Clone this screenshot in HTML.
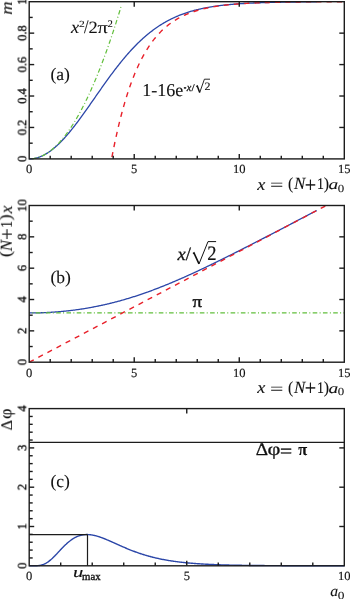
<!DOCTYPE html>
<html><head><meta charset="utf-8"><style>
html,body{margin:0;padding:0;background:#fff;}
body{width:350px;height:599px;overflow:hidden;}
svg{display:block;font-family:"Liberation Serif",serif;text-rendering:geometricPrecision;}
text{fill:#111;filter:url(#gs);}
</style></head><body>
<svg width="350" height="599" viewBox="0 0 350 599">
<filter id="gs" x="-20%" y="-20%" width="140%" height="140%"><feColorMatrix type="saturate" values="0"/></filter>
<path d="M29.2,158.9 L29.92,158.89 L30.64,158.86 L31.36,158.82 L32.08,158.75 L32.8,158.67 L33.52,158.56 L34.24,158.44 L34.96,158.3 L35.68,158.14 L36.41,157.97 L37.13,157.77 L37.85,157.56 L38.57,157.32 L39.29,157.07 L40.01,156.81 L40.73,156.52 L41.45,156.22 L42.17,155.89 L42.89,155.55 L43.61,155.2 L44.33,154.82 L45.05,154.43 L45.77,154.02 L46.49,153.59 L47.21,153.15 L47.93,152.69 L48.65,152.22 L49.38,151.72 L50.1,151.21 L50.82,150.69 L51.54,150.15 L52.26,149.59 L52.98,149.02 L53.7,148.43 L54.42,147.83 L55.14,147.21 L55.86,146.58 L56.58,145.94 L57.3,145.28 L58.02,144.6 L58.74,143.91 L59.46,143.21 L60.18,142.5 L60.9,141.77 L61.62,141.03 L62.34,140.28 L63.07,139.51 L63.79,138.73 L64.51,137.94 L65.23,137.14 L65.95,136.33 L66.67,135.51 L67.39,134.67 L68.11,133.83 L68.83,132.97 L69.55,132.11 L70.27,131.23 L70.99,130.35 L71.71,129.46 L72.43,128.56 L73.15,127.65 L73.87,126.73 L74.59,125.8 L75.31,124.87 L76.04,123.92 L76.76,122.98 L77.48,122.02 L78.2,121.06 L78.92,120.09 L79.64,119.12 L80.36,118.14 L81.08,117.15 L81.8,116.16 L82.52,115.16 L83.24,114.16 L83.96,113.16 L84.68,112.15 L85.4,111.14 L86.12,110.13 L86.84,109.11 L87.56,108.09 L88.28,107.06 L89,106.04 L89.73,105.01 L90.45,103.98 L91.17,102.95 L91.89,101.92 L92.61,100.88 L93.33,99.85 L94.05,98.81 L94.77,97.78 L95.49,96.75 L96.21,95.71 L96.93,94.68 L97.65,93.65 L98.37,92.61 L99.09,91.58 L99.81,90.56 L100.53,89.53 L101.25,88.5 L101.97,87.48 L102.7,86.46 L103.42,85.44 L104.14,84.43 L104.86,83.42 L105.58,82.41 L106.3,81.41 L107.02,80.41 L107.74,79.41 L108.46,78.42 L109.18,77.43 L109.9,76.45 L110.62,75.47 L111.34,74.49 L112.06,73.53 L112.78,72.56 L113.5,71.6 L114.22,70.65 L114.94,69.7 L115.66,68.76 L116.39,67.83 L117.11,66.9 L117.83,65.98 L118.55,65.06 L119.27,64.15 L119.99,63.25 L120.71,62.35 L121.43,61.46 L122.15,60.58 L122.87,59.7 L123.59,58.83 L124.31,57.97 L125.03,57.12 L125.75,56.27 L126.47,55.43 L127.19,54.6 L127.91,53.78 L128.63,52.96 L129.36,52.15 L130.08,51.35 L130.8,50.56 L131.52,49.78 L132.24,49 L132.96,48.23 L133.68,47.47 L134.4,46.72 L135.12,45.98 L135.84,45.24 L136.56,44.51 L137.28,43.79 L138,43.08 L138.72,42.38 L139.44,41.69 L140.16,41 L140.88,40.32 L141.6,39.65 L142.33,38.99 L143.05,38.34 L143.77,37.7 L144.49,37.06 L145.21,36.43 L145.93,35.81 L146.65,35.2 L147.37,34.6 L148.09,34 L148.81,33.42 L149.53,32.84 L150.25,32.27 L150.97,31.71 L151.69,31.15 L152.41,30.61 L153.13,30.07 L153.85,29.54 L154.57,29.01 L155.29,28.5 L156.02,27.99 L156.74,27.49 L157.46,27 L158.18,26.52 L158.9,26.04 L159.62,25.57 L160.34,25.11 L161.06,24.65 L161.78,24.2 L162.5,23.76 L163.22,23.33 L163.94,22.91 L164.66,22.49 L165.38,22.07 L166.1,21.67 L166.82,21.27 L167.54,20.88 L168.26,20.49 L168.99,20.12 L169.71,19.74 L170.43,19.38 L171.15,19.02 L171.87,18.67 L172.59,18.32 L173.31,17.98 L174.03,17.64 L174.75,17.32 L175.47,16.99 L176.19,16.68 L176.91,16.37 L177.63,16.06 L178.35,15.76 L179.07,15.47 L179.79,15.18 L180.51,14.89 L181.23,14.62 L181.95,14.34 L182.68,14.08 L183.4,13.81 L184.12,13.56 L184.84,13.3 L185.56,13.06 L186.28,12.81 L187,12.57 L187.72,12.34 L188.44,12.11 L189.16,11.89 L189.88,11.67 L190.6,11.45 L191.32,11.24 L192.04,11.03 L192.76,10.83 L193.48,10.63 L194.2,10.43 L194.92,10.24 L195.65,10.06 L196.37,9.87 L197.09,9.69 L197.81,9.52 L198.53,9.34 L199.25,9.17 L199.97,9.01 L200.69,8.85 L201.41,8.69 L202.13,8.53 L202.85,8.38 L203.57,8.23 L204.29,8.09 L205.01,7.94 L205.73,7.8 L206.45,7.67 L207.17,7.53 L207.89,7.4 L208.61,7.27 L209.34,7.15 L210.06,7.02 L210.78,6.9 L211.5,6.79 L212.22,6.67 L212.94,6.56 L213.66,6.45 L214.38,6.34 L215.1,6.24 L215.82,6.13 L216.54,6.03 L217.26,5.93 L217.98,5.84 L218.7,5.74 L219.42,5.65 L220.14,5.56 L220.86,5.47 L221.58,5.38 L222.31,5.3 L223.03,5.22 L223.75,5.14 L224.47,5.06 L225.19,4.98 L225.91,4.9 L226.63,4.83 L227.35,4.76 L228.07,4.69 L228.79,4.62 L229.51,4.55 L230.23,4.48 L230.95,4.42 L231.67,4.36 L232.39,4.29 L233.11,4.23 L233.83,4.18 L234.55,4.12 L235.27,4.06 L236,4.01 L236.72,3.95 L237.44,3.9 L238.16,3.85 L238.88,3.8 L239.6,3.75 L240.32,3.7 L241.04,3.66 L241.76,3.61 L242.48,3.57 L243.2,3.52 L243.92,3.48 L244.64,3.44 L245.36,3.4 L246.08,3.36 L246.8,3.32 L247.52,3.28 L248.24,3.24 L248.97,3.21 L249.69,3.17 L250.41,3.14 L251.13,3.1 L251.85,3.07 L252.57,3.04 L253.29,3.01 L254.01,2.98 L254.73,2.95 L255.45,2.92 L256.17,2.89 L256.89,2.86 L257.61,2.83 L258.33,2.81 L259.05,2.78 L259.77,2.75 L260.49,2.73 L261.21,2.7 L261.93,2.68 L262.66,2.66 L263.38,2.63 L264.1,2.61 L264.82,2.59 L265.54,2.57 L266.26,2.55 L266.98,2.53 L267.7,2.51 L268.42,2.49 L269.14,2.47 L269.86,2.45 L270.58,2.44 L271.3,2.42 L272.02,2.4 L272.74,2.38 L273.46,2.37 L274.18,2.35 L274.9,2.34 L275.63,2.32 L276.35,2.31 L277.07,2.29 L277.79,2.28 L278.51,2.26 L279.23,2.25 L279.95,2.24 L280.67,2.23 L281.39,2.21 L282.11,2.2 L282.83,2.19 L283.55,2.18 L284.27,2.17 L284.99,2.15 L285.71,2.14 L286.43,2.13 L287.15,2.12 L287.87,2.11 L288.59,2.1 L289.32,2.09 L290.04,2.08 L290.76,2.08 L291.48,2.07 L292.2,2.06 L292.92,2.05 L293.64,2.04 L294.36,2.03 L295.08,2.02 L295.8,2.02 L296.52,2.01 L297.24,2 L297.96,1.99 L298.68,1.99 L299.4,1.98 L300.12,1.97 L300.84,1.97 L301.56,1.96 L302.29,1.95 L303.01,1.95 L303.73,1.94 L304.45,1.94 L305.17,1.93 L305.89,1.93 L306.61,1.92 L307.33,1.92 L308.05,1.91 L308.77,1.91 L309.49,1.9 L310.21,1.9 L310.93,1.89 L311.65,1.89 L312.37,1.88 L313.09,1.88 L313.81,1.87 L314.53,1.87 L315.25,1.86 L315.98,1.86 L316.7,1.86" fill="none" stroke="#2b46a8" stroke-width="1.3" stroke-linejoin="round"/>
<path d="M29.2,158.9 L29.66,158.9 L30.13,158.88 L30.59,158.87 L31.05,158.84 L31.52,158.8 L31.98,158.76 L32.44,158.71 L32.9,158.65 L33.37,158.59 L33.83,158.51 L34.29,158.43 L34.76,158.34 L35.22,158.25 L35.68,158.14 L36.15,158.03 L36.61,157.91 L37.07,157.78 L37.54,157.65 L38,157.5 L38.46,157.35 L38.93,157.19 L39.39,157.03 L39.85,156.85 L40.31,156.67 L40.78,156.48 L41.24,156.28 L41.7,156.08 L42.17,155.87 L42.63,155.65 L43.09,155.42 L43.56,155.18 L44.02,154.94 L44.48,154.69 L44.95,154.43 L45.41,154.16 L45.87,153.88 L46.33,153.6 L46.8,153.31 L47.26,153.01 L47.72,152.71 L48.19,152.39 L48.65,152.07 L49.11,151.74 L49.58,151.41 L50.04,151.06 L50.5,150.71 L50.97,150.35 L51.43,149.98 L51.89,149.61 L52.35,149.22 L52.82,148.83 L53.28,148.43 L53.74,148.03 L54.21,147.61 L54.67,147.19 L55.13,146.76 L55.6,146.33 L56.06,145.88 L56.52,145.43 L56.99,144.97 L57.45,144.5 L57.91,144.02 L58.38,143.54 L58.84,143.05 L59.3,142.55 L59.76,142.04 L60.23,141.53 L60.69,141 L61.15,140.47 L61.62,139.94 L62.08,139.39 L62.54,138.84 L63.01,138.27 L63.47,137.71 L63.93,137.13 L64.4,136.54 L64.86,135.95 L65.32,135.35 L65.78,134.75 L66.25,134.13 L66.71,133.51 L67.17,132.88 L67.64,132.24 L68.1,131.59 L68.56,130.94 L69.03,130.27 L69.49,129.61 L69.95,128.93 L70.42,128.24 L70.88,127.55 L71.34,126.85 L71.8,126.14 L72.27,125.43 L72.73,124.7 L73.19,123.97 L73.66,123.23 L74.12,122.48 L74.58,121.73 L75.05,120.97 L75.51,120.2 L75.97,119.42 L76.44,118.63 L76.9,117.84 L77.36,117.04 L77.83,116.23 L78.29,115.41 L78.75,114.59 L79.21,113.76 L79.68,112.92 L80.14,112.07 L80.6,111.21 L81.07,110.35 L81.53,109.48 L81.99,108.6 L82.46,107.71 L82.92,106.82 L83.38,105.92 L83.85,105.01 L84.31,104.09 L84.77,103.17 L85.23,102.23 L85.7,101.29 L86.16,100.35 L86.62,99.39 L87.09,98.43 L87.55,97.45 L88.01,96.48 L88.48,95.49 L88.94,94.49 L89.4,93.49 L89.87,92.48 L90.33,91.46 L90.79,90.44 L91.25,89.4 L91.72,88.36 L92.18,87.31 L92.64,86.26 L93.11,85.19 L93.57,84.12 L94.03,83.04 L94.5,81.95 L94.96,80.86 L95.42,79.76 L95.89,78.64 L96.35,77.53 L96.81,76.4 L97.28,75.27 L97.74,74.12 L98.2,72.97 L98.66,71.82 L99.13,70.65 L99.59,69.48 L100.05,68.3 L100.52,67.11 L100.98,65.91 L101.44,64.71 L101.91,63.5 L102.37,62.28 L102.83,61.05 L103.3,59.82 L103.76,58.58 L104.22,57.33 L104.68,56.07 L105.15,54.8 L105.61,53.53 L106.07,52.25 L106.54,50.96 L107,49.66 L107.46,48.36 L107.93,47.05 L108.39,45.73 L108.85,44.4 L109.32,43.06 L109.78,41.72 L110.24,40.37 L110.7,39.01 L111.17,37.65 L111.63,36.27 L112.09,34.89 L112.56,33.5 L113.02,32.1 L113.48,30.7 L113.95,29.29 L114.41,27.87 L114.87,26.44 L115.34,25 L115.8,23.56 L116.26,22.11 L116.73,20.65 L117.19,19.18 L117.65,17.71 L118.11,16.22 L118.58,14.73 L119.04,13.24 L119.5,11.73 L119.97,10.22 L120.43,8.7 L120.89,7.17 L121.36,5.63" fill="none" stroke="#62bf3c" stroke-width="1.2" stroke-linejoin="round" stroke-dasharray="4.6 2.3 1.0 2.36" stroke-dashoffset="7.4"/>
<path d="M111.57,158.9 L112.35,154.83 L113.12,150.87 L113.9,147.02 L114.68,143.26 L115.46,139.6 L116.24,136.03 L117.02,132.56 L117.79,129.17 L118.57,125.88 L119.35,122.67 L120.13,119.54 L120.91,116.49 L121.69,113.52 L122.46,110.63 L123.24,107.81 L124.02,105.07 L124.8,102.4 L125.58,99.79 L126.36,97.26 L127.14,94.78 L127.91,92.38 L128.69,90.03 L129.47,87.75 L130.25,85.52 L131.03,83.35 L131.81,81.24 L132.58,79.19 L133.36,77.18 L134.14,75.23 L134.92,73.33 L135.7,71.48 L136.48,69.67 L137.25,67.91 L138.03,66.2 L138.81,64.53 L139.59,62.91 L140.37,61.33 L141.15,59.78 L141.92,58.28 L142.7,56.82 L143.48,55.39 L144.26,54 L145.04,52.65 L145.82,51.33 L146.59,50.05 L147.37,48.8 L148.15,47.58 L148.93,46.4 L149.71,45.24 L150.49,44.11 L151.26,43.02 L152.04,41.95 L152.82,40.91 L153.6,39.89 L154.38,38.91 L155.16,37.94 L155.93,37.01 L156.71,36.09 L157.49,35.2 L158.27,34.34 L159.05,33.49 L159.83,32.67 L160.61,31.87 L161.38,31.09 L162.16,30.33 L162.94,29.59 L163.72,28.87 L164.5,28.17 L165.28,27.48 L166.05,26.82 L166.83,26.17 L167.61,25.53 L168.39,24.92 L169.17,24.32 L169.95,23.73 L170.72,23.16 L171.5,22.61 L172.28,22.07 L173.06,21.54 L173.84,21.03 L174.62,20.53 L175.39,20.04 L176.17,19.57 L176.95,19.1 L177.73,18.65 L178.51,18.21 L179.29,17.79 L180.06,17.37 L180.84,16.97 L181.62,16.57 L182.4,16.19 L183.18,15.81 L183.96,15.45 L184.73,15.09 L185.51,14.75 L186.29,14.41 L187.07,14.08 L187.85,13.76 L188.63,13.45 L189.4,13.14 L190.18,12.85 L190.96,12.56 L191.74,12.28 L192.52,12.01 L193.3,11.74 L194.07,11.48 L194.85,11.23 L195.63,10.98 L196.41,10.74 L197.19,10.51 L197.97,10.28 L198.75,10.06 L199.52,9.84 L200.3,9.63 L201.08,9.42 L201.86,9.23 L202.64,9.03 L203.42,8.84 L204.19,8.66 L204.97,8.48 L205.75,8.3 L206.53,8.13 L207.31,7.96 L208.09,7.8 L208.86,7.64 L209.64,7.49 L210.42,7.34 L211.2,7.19 L211.98,7.05 L212.76,6.91 L213.53,6.78 L214.31,6.65 L215.09,6.52 L215.87,6.4 L216.65,6.27 L217.43,6.16 L218.2,6.04 L218.98,5.93 L219.76,5.82 L220.54,5.71 L221.32,5.61 L222.1,5.51 L222.87,5.41 L223.65,5.31 L224.43,5.22 L225.21,5.13 L225.99,5.04 L226.77,4.95 L227.54,4.87 L228.32,4.79 L229.1,4.71 L229.88,4.63 L230.66,4.55 L231.44,4.48 L232.21,4.41 L232.99,4.34 L233.77,4.27 L234.55,4.2 L235.33,4.14 L236.11,4.08 L236.89,4.01 L237.66,3.95 L238.44,3.9 L239.22,3.84 L240,3.78 L240.78,3.73 L241.56,3.68 L242.33,3.63 L243.11,3.58 L243.89,3.53 L244.67,3.48 L245.45,3.43 L246.23,3.39 L247,3.35 L247.78,3.3 L248.56,3.26 L249.34,3.22 L250.12,3.18 L250.9,3.14 L251.67,3.11 L252.45,3.07 L253.23,3.04 L254.01,3 L254.79,2.97 L255.57,2.93 L256.34,2.9 L257.12,2.87 L257.9,2.84 L258.68,2.81 L259.46,2.78 L260.24,2.75 L261.01,2.73 L261.79,2.7 L262.57,2.67 L263.35,2.65 L264.13,2.63 L264.91,2.6 L265.68,2.58 L266.46,2.56 L267.24,2.53 L268.02,2.51 L268.8,2.49 L269.58,2.47 L270.35,2.45 L271.13,2.43 L271.91,2.41 L272.69,2.39 L273.47,2.38 L274.25,2.36 L275.03,2.34 L275.8,2.32 L276.58,2.31 L277.36,2.29 L278.14,2.28 L278.92,2.26 L279.7,2.25 L280.47,2.23 L281.25,2.22 L282.03,2.21 L282.81,2.19 L283.59,2.18 L284.37,2.17 L285.14,2.16 L285.92,2.14 L286.7,2.13 L287.48,2.12 L288.26,2.11 L289.04,2.1 L289.81,2.09 L290.59,2.08 L291.37,2.07 L292.15,2.06 L292.93,2.05 L293.71,2.04 L294.48,2.03 L295.26,2.02 L296.04,2.02 L296.82,2.01 L297.6,2 L298.38,1.99 L299.15,1.98 L299.93,1.98 L300.71,1.97 L301.49,1.96 L302.27,1.96 L303.05,1.95 L303.82,1.94 L304.6,1.94 L305.38,1.93 L306.16,1.92 L306.94,1.92 L307.72,1.91 L308.5,1.91 L309.27,1.9 L310.05,1.9 L310.83,1.89 L311.61,1.89 L312.39,1.88 L313.17,1.88 L313.94,1.87 L314.72,1.87 L315.5,1.86 L316.28,1.86 L317.06,1.86 L317.84,1.85 L318.61,1.85 L319.39,1.84 L320.17,1.84 L320.95,1.84 L321.73,1.83 L322.51,1.83 L323.28,1.83 L324.06,1.82 L324.84,1.82 L325.62,1.82 L326.4,1.81 L327.18,1.81 L327.95,1.81 L328.73,1.81 L329.51,1.8 L330.29,1.8 L331.07,1.8 L331.85,1.79 L332.62,1.79 L333.4,1.79 L334.18,1.79 L334.96,1.79 L335.74,1.78 L336.52,1.78 L337.29,1.78 L338.07,1.78 L338.85,1.77 L339.63,1.77 L340.41,1.77 L341.19,1.77 L341.96,1.77 L342.74,1.77 L343.52,1.76 L344.3,1.76" fill="none" stroke="#e8202a" stroke-width="1.4" stroke-linejoin="round" stroke-dasharray="5.15 5.15" stroke-dashoffset="-1.8"/>
<rect x="29.2" y="1.7" width="315.1" height="157.2" fill="none" stroke="#1c1c1c" stroke-width="1.4"/>
<line x1="50.21" y1="158.9" x2="50.21" y2="155.7" stroke="#1c1c1c" stroke-width="1.4" />
<line x1="71.21" y1="158.9" x2="71.21" y2="155.7" stroke="#1c1c1c" stroke-width="1.4" />
<line x1="92.22" y1="158.9" x2="92.22" y2="155.7" stroke="#1c1c1c" stroke-width="1.4" />
<line x1="113.23" y1="158.9" x2="113.23" y2="155.7" stroke="#1c1c1c" stroke-width="1.4" />
<line x1="134.23" y1="158.9" x2="134.23" y2="153.9" stroke="#1c1c1c" stroke-width="1.4" />
<line x1="134.23" y1="1.7" x2="134.23" y2="6.7" stroke="#1c1c1c" stroke-width="1.4" />
<line x1="155.24" y1="158.9" x2="155.24" y2="155.7" stroke="#1c1c1c" stroke-width="1.4" />
<line x1="176.25" y1="158.9" x2="176.25" y2="155.7" stroke="#1c1c1c" stroke-width="1.4" />
<line x1="197.25" y1="158.9" x2="197.25" y2="155.7" stroke="#1c1c1c" stroke-width="1.4" />
<line x1="218.26" y1="158.9" x2="218.26" y2="155.7" stroke="#1c1c1c" stroke-width="1.4" />
<line x1="239.27" y1="158.9" x2="239.27" y2="153.9" stroke="#1c1c1c" stroke-width="1.4" />
<line x1="239.27" y1="1.7" x2="239.27" y2="6.7" stroke="#1c1c1c" stroke-width="1.4" />
<line x1="260.27" y1="158.9" x2="260.27" y2="155.7" stroke="#1c1c1c" stroke-width="1.4" />
<line x1="281.28" y1="158.9" x2="281.28" y2="155.7" stroke="#1c1c1c" stroke-width="1.4" />
<line x1="302.29" y1="158.9" x2="302.29" y2="155.7" stroke="#1c1c1c" stroke-width="1.4" />
<line x1="323.29" y1="158.9" x2="323.29" y2="155.7" stroke="#1c1c1c" stroke-width="1.4" />
<line x1="29.2" y1="143.18" x2="32.7" y2="143.18" stroke="#1c1c1c" stroke-width="1.4" />
<line x1="29.2" y1="127.46" x2="34.2" y2="127.46" stroke="#1c1c1c" stroke-width="1.4" />
<line x1="344.3" y1="127.46" x2="339.3" y2="127.46" stroke="#1c1c1c" stroke-width="1.4" />
<line x1="29.2" y1="111.74" x2="32.7" y2="111.74" stroke="#1c1c1c" stroke-width="1.4" />
<line x1="29.2" y1="96.02" x2="34.2" y2="96.02" stroke="#1c1c1c" stroke-width="1.4" />
<line x1="344.3" y1="96.02" x2="339.3" y2="96.02" stroke="#1c1c1c" stroke-width="1.4" />
<line x1="29.2" y1="80.3" x2="32.7" y2="80.3" stroke="#1c1c1c" stroke-width="1.4" />
<line x1="29.2" y1="64.58" x2="34.2" y2="64.58" stroke="#1c1c1c" stroke-width="1.4" />
<line x1="344.3" y1="64.58" x2="339.3" y2="64.58" stroke="#1c1c1c" stroke-width="1.4" />
<line x1="29.2" y1="48.86" x2="32.7" y2="48.86" stroke="#1c1c1c" stroke-width="1.4" />
<line x1="29.2" y1="33.14" x2="34.2" y2="33.14" stroke="#1c1c1c" stroke-width="1.4" />
<line x1="344.3" y1="33.14" x2="339.3" y2="33.14" stroke="#1c1c1c" stroke-width="1.4" />
<line x1="29.2" y1="17.42" x2="32.7" y2="17.42" stroke="#1c1c1c" stroke-width="1.4" />
<text transform="translate(26.2,158.9) rotate(-90)" x="0" y="0" font-size="12.5" text-anchor="middle" stroke="#111" stroke-width="0.35" >0</text>
<text transform="translate(26.2,127.46) rotate(-90)" x="0" y="0" font-size="12.5" text-anchor="middle" stroke="#111" stroke-width="0.35" >0.2</text>
<text transform="translate(26.2,96.02) rotate(-90)" x="0" y="0" font-size="12.5" text-anchor="middle" stroke="#111" stroke-width="0.35" >0.4</text>
<text transform="translate(26.2,64.58) rotate(-90)" x="0" y="0" font-size="12.5" text-anchor="middle" stroke="#111" stroke-width="0.35" >0.6</text>
<text transform="translate(26.2,33.14) rotate(-90)" x="0" y="0" font-size="12.5" text-anchor="middle" stroke="#111" stroke-width="0.35" >0.8</text>
<text transform="translate(26.2,1.7) rotate(-90)" x="0" y="0" font-size="12.5" text-anchor="middle" stroke="#111" stroke-width="0.35" >1</text>
<text x="29.2" y="173.2" font-size="12.5" text-anchor="middle" stroke="#111" stroke-width="0.15" >0</text>
<text x="134.23" y="173.2" font-size="12.5" text-anchor="middle" stroke="#111" stroke-width="0.15" >5</text>
<text x="239.27" y="173.2" font-size="12.5" text-anchor="middle" stroke="#111" stroke-width="0.15" >10</text>
<text x="344.3" y="173.2" font-size="12.5" text-anchor="middle" stroke="#111" stroke-width="0.15" >15</text>
<text transform="translate(12,14.69) rotate(-90) scale(1.107,1)" font-size="16.6" font-style="italic" stroke="#111" stroke-width="0.10">m</text>
<text transform="translate(257.13,189.5) scale(1.061,1)" font-size="17.17" font-style="italic" stroke="#111" stroke-width="0.09">x</text>
<text transform="translate(270.12,190.32) scale(1.478,1)" font-size="16"  stroke="#111" stroke-width="0.07">=</text>
<text transform="translate(287.89,189.39) scale(0.924,1)" font-size="16.97"  stroke="#111" stroke-width="0.11">(</text>
<text transform="translate(293.93,189.4) scale(0.991,1)" font-size="17.1" font-style="italic" stroke="#111" stroke-width="0.10">N</text>
<text transform="translate(304.79,191.95) scale(0.940,1)" font-size="21.51"  stroke="#111" stroke-width="0.11">+</text>
<text transform="translate(317.08,189.4) scale(0.849,1)" font-size="16.36"  stroke="#111" stroke-width="0.12">1</text>
<text transform="translate(323.78,189.39) scale(0.938,1)" font-size="16.97"  stroke="#111" stroke-width="0.11">)</text>
<text transform="translate(328.62,189.45) scale(1.332,1)" font-size="14.58" font-style="italic" stroke="#111" stroke-width="0.08">a</text>
<text transform="translate(337.81,191.89) scale(1.213,1)" font-size="10.67"  stroke="#111" stroke-width="0.08">0</text>
<text transform="translate(71.03,32.7) scale(1.035,1)" font-size="17.61" font-style="italic" stroke="#111" stroke-width="0.10">x</text>
<text transform="translate(78.88,26.9) scale(1.249,1)" font-size="9.21"  stroke="#111" stroke-width="0.08">2</text>
<text transform="translate(84.1,32.61) scale(0.862,1)" font-size="18.81"  stroke="#111" stroke-width="0.12">/</text>
<text transform="translate(88.47,32.7) scale(1.075,1)" font-size="17.21"  stroke="#111" stroke-width="0.09">2</text>
<text transform="translate(97.39,32.63) scale(1.227,1)" font-size="16.81"  stroke="#111" stroke-width="0.08">π</text>
<text transform="translate(107.52,26.8) scale(1.079,1)" font-size="9.96"  stroke="#111" stroke-width="0.09">2</text>
<text x="50.4" y="79.6" font-size="17.5" text-anchor="start" stroke="#111" stroke-width="0.1" >(a)</text>
<text x="142.2" y="95.6" font-size="18" text-anchor="start" stroke="#111" stroke-width="0.1" >1-16e</text>
<text transform="translate(183.71,90.93) scale(0.577,1)" font-size="13.33"  stroke="#111" stroke-width="0.52">-</text>
<text transform="translate(186.63,90.5) scale(0.922,1)" font-size="11.09" font-style="italic" stroke="#111" stroke-width="0.27">x</text>
<text transform="translate(191.5,90.5) scale(1.101,1)" font-size="10.15"  stroke="#111" stroke-width="0.23">/</text>
<path d="M196.3,86.6 L197.3,86 L199.7,92.6" fill="none" stroke="#111" stroke-width="1.5" stroke-linejoin="miter"/>
<path d="M199.7,92.6 L204.4,79.2 L210,79.2" fill="none" stroke="#111" stroke-width="0.9"/>
<text transform="translate(204.46,90.3) scale(1.060,1)" font-size="11.32"  stroke="#111" stroke-width="0.14">2</text>
<clipPath id="cb"><rect x="29.2" y="205.5" width="315.1" height="156.7"/></clipPath>
<g clip-path="url(#cb)">
<path d="M29.2,312.97 L29.92,312.97 L30.64,312.97 L31.36,312.96 L32.08,312.96 L32.8,312.95 L33.52,312.94 L34.24,312.94 L34.96,312.92 L35.68,312.91 L36.41,312.9 L37.13,312.88 L37.85,312.87 L38.57,312.85 L39.29,312.83 L40.01,312.81 L40.73,312.78 L41.45,312.76 L42.17,312.73 L42.89,312.71 L43.61,312.68 L44.33,312.65 L45.05,312.62 L45.77,312.58 L46.49,312.55 L47.21,312.51 L47.93,312.47 L48.65,312.44 L49.38,312.39 L50.1,312.35 L50.82,312.31 L51.54,312.26 L52.26,312.22 L52.98,312.17 L53.7,312.12 L54.42,312.07 L55.14,312.02 L55.86,311.96 L56.58,311.91 L57.3,311.85 L58.02,311.79 L58.74,311.73 L59.46,311.67 L60.18,311.61 L60.9,311.54 L61.62,311.47 L62.34,311.41 L63.07,311.34 L63.79,311.27 L64.51,311.19 L65.23,311.12 L65.95,311.05 L66.67,310.97 L67.39,310.89 L68.11,310.81 L68.83,310.73 L69.55,310.65 L70.27,310.56 L70.99,310.47 L71.71,310.39 L72.43,310.3 L73.15,310.21 L73.87,310.11 L74.59,310.02 L75.31,309.92 L76.04,309.83 L76.76,309.73 L77.48,309.63 L78.2,309.52 L78.92,309.42 L79.64,309.32 L80.36,309.21 L81.08,309.1 L81.8,308.99 L82.52,308.88 L83.24,308.77 L83.96,308.65 L84.68,308.53 L85.4,308.42 L86.12,308.3 L86.84,308.18 L87.56,308.05 L88.28,307.93 L89,307.8 L89.73,307.67 L90.45,307.54 L91.17,307.41 L91.89,307.28 L92.61,307.15 L93.33,307.01 L94.05,306.87 L94.77,306.73 L95.49,306.59 L96.21,306.45 L96.93,306.31 L97.65,306.16 L98.37,306.01 L99.09,305.86 L99.81,305.71 L100.53,305.56 L101.25,305.41 L101.97,305.25 L102.7,305.09 L103.42,304.93 L104.14,304.77 L104.86,304.61 L105.58,304.44 L106.3,304.28 L107.02,304.11 L107.74,303.94 L108.46,303.77 L109.18,303.6 L109.9,303.42 L110.62,303.25 L111.34,303.07 L112.06,302.89 L112.78,302.71 L113.5,302.53 L114.22,302.34 L114.94,302.16 L115.66,301.97 L116.39,301.78 L117.11,301.59 L117.83,301.4 L118.55,301.2 L119.27,301.01 L119.99,300.81 L120.71,300.61 L121.43,300.41 L122.15,300.21 L122.87,300 L123.59,299.8 L124.31,299.59 L125.03,299.38 L125.75,299.17 L126.47,298.96 L127.19,298.74 L127.91,298.53 L128.63,298.31 L129.36,298.09 L130.08,297.87 L130.8,297.65 L131.52,297.42 L132.24,297.2 L132.96,296.97 L133.68,296.74 L134.4,296.51 L135.12,296.28 L135.84,296.05 L136.56,295.81 L137.28,295.58 L138,295.34 L138.72,295.1 L139.44,294.86 L140.16,294.62 L140.88,294.37 L141.6,294.13 L142.33,293.88 L143.05,293.63 L143.77,293.38 L144.49,293.13 L145.21,292.87 L145.93,292.62 L146.65,292.36 L147.37,292.1 L148.09,291.85 L148.81,291.58 L149.53,291.32 L150.25,291.06 L150.97,290.79 L151.69,290.53 L152.41,290.26 L153.13,289.99 L153.85,289.72 L154.57,289.45 L155.29,289.17 L156.02,288.9 L156.74,288.62 L157.46,288.35 L158.18,288.07 L158.9,287.79 L159.62,287.5 L160.34,287.22 L161.06,286.94 L161.78,286.65 L162.5,286.37 L163.22,286.08 L163.94,285.79 L164.66,285.5 L165.38,285.21 L166.1,284.91 L166.82,284.62 L167.54,284.32 L168.26,284.03 L168.99,283.73 L169.71,283.43 L170.43,283.13 L171.15,282.83 L171.87,282.53 L172.59,282.22 L173.31,281.92 L174.03,281.61 L174.75,281.3 L175.47,281 L176.19,280.69 L176.91,280.38 L177.63,280.07 L178.35,279.75 L179.07,279.44 L179.79,279.13 L180.51,278.81 L181.23,278.49 L181.95,278.18 L182.68,277.86 L183.4,277.54 L184.12,277.22 L184.84,276.9 L185.56,276.58 L186.28,276.25 L187,275.93 L187.72,275.6 L188.44,275.28 L189.16,274.95 L189.88,274.62 L190.6,274.3 L191.32,273.97 L192.04,273.64 L192.76,273.31 L193.48,272.97 L194.2,272.64 L194.92,272.31 L195.65,271.97 L196.37,271.64 L197.09,271.3 L197.81,270.97 L198.53,270.63 L199.25,270.29 L199.97,269.95 L200.69,269.62 L201.41,269.28 L202.13,268.94 L202.85,268.59 L203.57,268.25 L204.29,267.91 L205.01,267.57 L205.73,267.22 L206.45,266.88 L207.17,266.53 L207.89,266.19 L208.61,265.84 L209.34,265.49 L210.06,265.15 L210.78,264.8 L211.5,264.45 L212.22,264.1 L212.94,263.75 L213.66,263.4 L214.38,263.05 L215.1,262.7 L215.82,262.35 L216.54,261.99 L217.26,261.64 L217.98,261.29 L218.7,260.93 L219.42,260.58 L220.14,260.22 L220.86,259.87 L221.58,259.51 L222.31,259.16 L223.03,258.8 L223.75,258.44 L224.47,258.09 L225.19,257.73 L225.91,257.37 L226.63,257.01 L227.35,256.65 L228.07,256.29 L228.79,255.93 L229.51,255.57 L230.23,255.21 L230.95,254.85 L231.67,254.49 L232.39,254.13 L233.11,253.76 L233.83,253.4 L234.55,253.04 L235.27,252.68 L236,252.31 L236.72,251.95 L237.44,251.58 L238.16,251.22 L238.88,250.86 L239.6,250.49 L240.32,250.13 L241.04,249.76 L241.76,249.39 L242.48,249.03 L243.2,248.66 L243.92,248.29 L244.64,247.93 L245.36,247.56 L246.08,247.19 L246.8,246.83 L247.52,246.46 L248.24,246.09 L248.97,245.72 L249.69,245.35 L250.41,244.98 L251.13,244.61 L251.85,244.25 L252.57,243.88 L253.29,243.51 L254.01,243.14 L254.73,242.77 L255.45,242.4 L256.17,242.03 L256.89,241.65 L257.61,241.28 L258.33,240.91 L259.05,240.54 L259.77,240.17 L260.49,239.8 L261.21,239.43 L261.93,239.05 L262.66,238.68 L263.38,238.31 L264.1,237.94 L264.82,237.57 L265.54,237.19 L266.26,236.82 L266.98,236.45 L267.7,236.07 L268.42,235.7 L269.14,235.33 L269.86,234.95 L270.58,234.58 L271.3,234.21 L272.02,233.83 L272.74,233.46 L273.46,233.08 L274.18,232.71 L274.9,232.34 L275.63,231.96 L276.35,231.59 L277.07,231.21 L277.79,230.84 L278.51,230.46 L279.23,230.09 L279.95,229.71 L280.67,229.34 L281.39,228.96 L282.11,228.58 L282.83,228.21 L283.55,227.83 L284.27,227.46 L284.99,227.08 L285.71,226.71 L286.43,226.33 L287.15,225.95 L287.87,225.58 L288.59,225.2 L289.32,224.83 L290.04,224.45 L290.76,224.07 L291.48,223.7 L292.2,223.32 L292.92,222.94 L293.64,222.57 L294.36,222.19 L295.08,221.81 L295.8,221.43 L296.52,221.06 L297.24,220.68 L297.96,220.3 L298.68,219.93 L299.4,219.55 L300.12,219.17 L300.84,218.79 L301.56,218.42 L302.29,218.04 L303.01,217.66 L303.73,217.28 L304.45,216.91 L305.17,216.53 L305.89,216.15 L306.61,215.77 L307.33,215.4 L308.05,215.02 L308.77,214.64 L309.49,214.26 L310.21,213.88 L310.93,213.51 L311.65,213.13 L312.37,212.75 L313.09,212.37 L313.81,211.99 L314.53,211.61 L315.25,211.24 L315.98,210.86 L316.7,210.48" fill="none" stroke="#2b46a8" stroke-width="1.3" stroke-linejoin="round"/>
<path d="M29.2,312.97 L344.3,312.97" fill="none" stroke="#62bf3c" stroke-width="1.2" stroke-linejoin="round" stroke-dasharray="4.6 2.3 1.0 2.36" stroke-dashoffset="3.8"/>
<path d="M29.2,362.2 L344.3,195.99" fill="none" stroke="#e8202a" stroke-width="1.4" stroke-linejoin="round" stroke-dasharray="5.15 5.15" stroke-dashoffset="0"/>
</g>
<rect x="29.2" y="205.5" width="315.1" height="156.7" fill="none" stroke="#1c1c1c" stroke-width="1.4"/>
<line x1="50.21" y1="362.2" x2="50.21" y2="359" stroke="#1c1c1c" stroke-width="1.4" />
<line x1="71.21" y1="362.2" x2="71.21" y2="359" stroke="#1c1c1c" stroke-width="1.4" />
<line x1="92.22" y1="362.2" x2="92.22" y2="359" stroke="#1c1c1c" stroke-width="1.4" />
<line x1="113.23" y1="362.2" x2="113.23" y2="359" stroke="#1c1c1c" stroke-width="1.4" />
<line x1="134.23" y1="362.2" x2="134.23" y2="357.2" stroke="#1c1c1c" stroke-width="1.4" />
<line x1="134.23" y1="205.5" x2="134.23" y2="210.5" stroke="#1c1c1c" stroke-width="1.4" />
<line x1="155.24" y1="362.2" x2="155.24" y2="359" stroke="#1c1c1c" stroke-width="1.4" />
<line x1="176.25" y1="362.2" x2="176.25" y2="359" stroke="#1c1c1c" stroke-width="1.4" />
<line x1="197.25" y1="362.2" x2="197.25" y2="359" stroke="#1c1c1c" stroke-width="1.4" />
<line x1="218.26" y1="362.2" x2="218.26" y2="359" stroke="#1c1c1c" stroke-width="1.4" />
<line x1="239.27" y1="362.2" x2="239.27" y2="357.2" stroke="#1c1c1c" stroke-width="1.4" />
<line x1="239.27" y1="205.5" x2="239.27" y2="210.5" stroke="#1c1c1c" stroke-width="1.4" />
<line x1="260.27" y1="362.2" x2="260.27" y2="359" stroke="#1c1c1c" stroke-width="1.4" />
<line x1="281.28" y1="362.2" x2="281.28" y2="359" stroke="#1c1c1c" stroke-width="1.4" />
<line x1="302.29" y1="362.2" x2="302.29" y2="359" stroke="#1c1c1c" stroke-width="1.4" />
<line x1="323.29" y1="362.2" x2="323.29" y2="359" stroke="#1c1c1c" stroke-width="1.4" />
<line x1="29.2" y1="346.53" x2="32.7" y2="346.53" stroke="#1c1c1c" stroke-width="1.4" />
<line x1="29.2" y1="330.86" x2="34.2" y2="330.86" stroke="#1c1c1c" stroke-width="1.4" />
<line x1="344.3" y1="330.86" x2="339.3" y2="330.86" stroke="#1c1c1c" stroke-width="1.4" />
<line x1="29.2" y1="315.19" x2="32.7" y2="315.19" stroke="#1c1c1c" stroke-width="1.4" />
<line x1="29.2" y1="299.52" x2="34.2" y2="299.52" stroke="#1c1c1c" stroke-width="1.4" />
<line x1="344.3" y1="299.52" x2="339.3" y2="299.52" stroke="#1c1c1c" stroke-width="1.4" />
<line x1="29.2" y1="283.85" x2="32.7" y2="283.85" stroke="#1c1c1c" stroke-width="1.4" />
<line x1="29.2" y1="268.18" x2="34.2" y2="268.18" stroke="#1c1c1c" stroke-width="1.4" />
<line x1="344.3" y1="268.18" x2="339.3" y2="268.18" stroke="#1c1c1c" stroke-width="1.4" />
<line x1="29.2" y1="252.51" x2="32.7" y2="252.51" stroke="#1c1c1c" stroke-width="1.4" />
<line x1="29.2" y1="236.84" x2="34.2" y2="236.84" stroke="#1c1c1c" stroke-width="1.4" />
<line x1="344.3" y1="236.84" x2="339.3" y2="236.84" stroke="#1c1c1c" stroke-width="1.4" />
<line x1="29.2" y1="221.17" x2="32.7" y2="221.17" stroke="#1c1c1c" stroke-width="1.4" />
<text transform="translate(26.2,362.2) rotate(-90)" x="0" y="0" font-size="12.5" text-anchor="middle" stroke="#111" stroke-width="0.35" >0</text>
<text transform="translate(26.2,330.86) rotate(-90)" x="0" y="0" font-size="12.5" text-anchor="middle" stroke="#111" stroke-width="0.35" >2</text>
<text transform="translate(26.2,299.52) rotate(-90)" x="0" y="0" font-size="12.5" text-anchor="middle" stroke="#111" stroke-width="0.35" >4</text>
<text transform="translate(26.2,268.18) rotate(-90)" x="0" y="0" font-size="12.5" text-anchor="middle" stroke="#111" stroke-width="0.35" >6</text>
<text transform="translate(26.2,236.84) rotate(-90)" x="0" y="0" font-size="12.5" text-anchor="middle" stroke="#111" stroke-width="0.35" >8</text>
<text transform="translate(26.2,205.5) rotate(-90)" x="0" y="0" font-size="12.5" text-anchor="middle" stroke="#111" stroke-width="0.35" >10</text>
<text x="29.2" y="376.5" font-size="12.5" text-anchor="middle" stroke="#111" stroke-width="0.15" >0</text>
<text x="134.23" y="376.5" font-size="12.5" text-anchor="middle" stroke="#111" stroke-width="0.15" >5</text>
<text x="239.27" y="376.5" font-size="12.5" text-anchor="middle" stroke="#111" stroke-width="0.15" >10</text>
<text x="344.3" y="376.5" font-size="12.5" text-anchor="middle" stroke="#111" stroke-width="0.15" >15</text>
<text transform="translate(10.69,257.13) rotate(-90) scale(1.115,1)" font-size="16.53"  stroke="#111" stroke-width="0.10">(</text>
<text transform="translate(11.9,251.18) rotate(-90) scale(0.983,1)" font-size="16.95" font-style="italic" stroke="#111" stroke-width="0.10">N</text>
<text transform="translate(13.89,240.04) rotate(-90) scale(1.000,1)" font-size="20.86"  stroke="#111" stroke-width="0.10">+</text>
<text transform="translate(11.9,227.82) rotate(-90) scale(0.842,1)" font-size="16.52"  stroke="#111" stroke-width="0.10">1</text>
<text transform="translate(10.69,220.38) rotate(-90) scale(1.081,1)" font-size="16.53"  stroke="#111" stroke-width="0.10">)</text>
<text transform="translate(12.1,213.38) rotate(-90) scale(0.973,1)" font-size="18.04" font-style="italic" stroke="#111" stroke-width="0.10">x</text>
<text transform="translate(257.13,392.8) scale(1.061,1)" font-size="17.17" font-style="italic" stroke="#111" stroke-width="0.09">x</text>
<text transform="translate(270.12,393.62) scale(1.478,1)" font-size="16"  stroke="#111" stroke-width="0.07">=</text>
<text transform="translate(287.89,392.69) scale(0.924,1)" font-size="16.97"  stroke="#111" stroke-width="0.11">(</text>
<text transform="translate(293.93,392.7) scale(0.991,1)" font-size="17.1" font-style="italic" stroke="#111" stroke-width="0.10">N</text>
<text transform="translate(304.79,395.25) scale(0.940,1)" font-size="21.51"  stroke="#111" stroke-width="0.11">+</text>
<text transform="translate(317.08,392.7) scale(0.849,1)" font-size="16.36"  stroke="#111" stroke-width="0.12">1</text>
<text transform="translate(323.78,392.69) scale(0.938,1)" font-size="16.97"  stroke="#111" stroke-width="0.11">)</text>
<text transform="translate(328.62,392.75) scale(1.332,1)" font-size="14.58" font-style="italic" stroke="#111" stroke-width="0.08">a</text>
<text transform="translate(337.81,395.19) scale(1.213,1)" font-size="10.67"  stroke="#111" stroke-width="0.08">0</text>
<text x="50.4" y="283" font-size="17.5" text-anchor="start" stroke="#111" stroke-width="0.1" >(b)</text>
<text transform="translate(177.53,259.7) scale(1.010,1)" font-size="18.26" font-style="italic" stroke="#111" stroke-width="0.30">x</text>
<text transform="translate(185.7,259.61) scale(0.996,1)" font-size="18.81"  stroke="#111" stroke-width="0.30">/</text>
<path d="M193,253.6 L194,253 L199,263.9" fill="none" stroke="#111" stroke-width="1.6" stroke-linejoin="miter"/>
<path d="M199,263.9 L208,241.6 L216.1,241.6" fill="none" stroke="#111" stroke-width="1.0"/>
<text transform="translate(207.37,259.6) scale(0.901,1)" font-size="20.53"  stroke="#111" stroke-width="0.22">2</text>
<text transform="translate(192.62,306.73) scale(1.127,1)" font-size="16.81"  stroke="#111" stroke-width="0.40">π</text>
<path d="M29.2,565.8 L29.52,565.8 L29.83,565.8 L30.15,565.8 L30.46,565.8 L30.78,565.8 L31.09,565.8 L31.41,565.8 L31.72,565.8 L32.04,565.8 L32.35,565.8 L32.67,565.8 L32.98,565.8 L33.3,565.8 L33.61,565.8 L33.93,565.79 L34.24,565.79 L34.56,565.79 L34.87,565.78 L35.19,565.78 L35.5,565.77 L35.82,565.76 L36.13,565.75 L36.45,565.74 L36.76,565.72 L37.08,565.71 L37.39,565.69 L37.71,565.66 L38.02,565.63 L38.34,565.6 L38.65,565.57 L38.97,565.53 L39.28,565.49 L39.6,565.44 L39.91,565.39 L40.23,565.33 L40.54,565.27 L40.86,565.2 L41.17,565.13 L41.49,565.05 L41.8,564.96 L42.12,564.87 L42.43,564.77 L42.75,564.67 L43.06,564.56 L43.38,564.44 L43.69,564.31 L44.01,564.18 L44.32,564.04 L44.64,563.9 L44.95,563.75 L45.27,563.59 L45.59,563.42 L45.9,563.25 L46.22,563.07 L46.53,562.88 L46.85,562.69 L47.16,562.49 L47.48,562.28 L47.79,562.06 L48.11,561.84 L48.42,561.62 L48.74,561.38 L49.05,561.14 L49.37,560.9 L49.68,560.65 L50,560.39 L50.31,560.13 L50.63,559.86 L50.94,559.58 L51.26,559.31 L51.57,559.02 L51.89,558.74 L52.2,558.44 L52.52,558.15 L52.83,557.85 L53.15,557.54 L53.46,557.23 L53.78,556.92 L54.09,556.61 L54.41,556.29 L54.72,555.97 L55.04,555.64 L55.35,555.32 L55.67,554.99 L55.98,554.66 L56.3,554.33 L56.61,553.99 L56.93,553.66 L57.24,553.32 L57.56,552.99 L57.87,552.65 L58.19,552.31 L58.5,551.97 L58.82,551.63 L59.13,551.29 L59.45,550.96 L59.76,550.62 L60.08,550.28 L60.39,549.94 L60.71,549.61 L61.03,549.27 L61.34,548.94 L61.66,548.61 L61.97,548.28 L62.29,547.95 L62.6,547.63 L62.92,547.3 L63.23,546.98 L63.55,546.66 L63.86,546.35 L64.18,546.03 L64.49,545.72 L64.81,545.41 L65.12,545.11 L65.44,544.81 L65.75,544.51 L66.07,544.22 L66.38,543.92 L66.7,543.64 L67.01,543.35 L67.33,543.07 L67.64,542.8 L67.96,542.52 L68.27,542.25 L68.59,541.99 L68.9,541.73 L69.22,541.47 L69.53,541.22 L69.85,540.98 L70.16,540.73 L70.48,540.49 L70.79,540.26 L71.11,540.03 L71.42,539.81 L71.74,539.59 L72.05,539.37 L72.37,539.16 L72.68,538.96 L73,538.76 L73.31,538.56 L73.63,538.37 L73.94,538.18 L74.26,538 L74.57,537.82 L74.89,537.65 L75.2,537.48 L75.52,537.32 L75.83,537.16 L76.15,537.01 L76.47,536.86 L76.78,536.72 L77.1,536.58 L77.41,536.45 L77.73,536.32 L78.04,536.2 L78.36,536.08 L78.67,535.96 L78.99,535.85 L79.3,535.75 L79.62,535.65 L79.93,535.55 L80.25,535.46 L80.56,535.38 L80.88,535.29 L81.19,535.22 L81.51,535.14 L81.82,535.08 L82.14,535.01 L82.45,534.95 L82.77,534.9 L83.08,534.85 L83.4,534.8 L83.71,534.76 L84.03,534.72 L84.34,534.68 L84.66,534.65 L84.97,534.63 L85.29,534.61 L85.6,534.59 L85.92,534.57 L86.23,534.56 L86.55,534.56 L86.86,534.55 L87.18,534.55 L87.49,534.56 L87.81,534.56 L88.12,534.58 L88.44,534.59 L88.75,534.61 L89.07,534.63 L89.38,534.65 L89.7,534.68 L90.01,534.71 L90.33,534.75 L90.64,534.79 L90.96,534.83 L91.27,534.87 L91.59,534.92 L91.9,534.97 L92.22,535.02 L92.54,535.07 L92.85,535.13 L93.17,535.19 L93.48,535.26 L93.8,535.32 L94.11,535.39 L94.43,535.46 L94.74,535.53 L95.06,535.61 L95.37,535.69 L95.69,535.77 L96,535.85 L96.32,535.94 L96.63,536.02 L96.95,536.11 L97.26,536.2 L97.58,536.3 L97.89,536.39 L98.21,536.49 L98.52,536.59 L98.84,536.69 L99.15,536.79 L99.47,536.89 L99.78,537 L100.1,537.11 L100.41,537.22 L100.73,537.33 L101.04,537.44 L101.36,537.55 L101.67,537.67 L101.99,537.78 L102.3,537.9 L102.62,538.02 L102.93,538.14 L103.25,538.26 L103.56,538.38 L103.88,538.5 L104.19,538.63 L104.51,538.75 L104.82,538.88 L105.14,539.01 L105.45,539.14 L105.77,539.27 L106.08,539.4 L106.4,539.53 L106.71,539.66 L107.03,539.79 L107.34,539.93 L107.66,540.06 L107.98,540.19 L108.29,540.33 L108.61,540.46 L108.92,540.6 L109.24,540.74 L109.55,540.88 L109.87,541.01 L110.18,541.15 L110.5,541.29 L110.81,541.43 L111.13,541.57 L111.44,541.71 L111.76,541.85 L112.07,541.99 L112.39,542.13 L112.7,542.27 L113.02,542.41 L113.33,542.55 L113.65,542.7 L113.96,542.84 L114.28,542.98 L114.59,543.12 L114.91,543.26 L115.22,543.4 L115.54,543.55 L115.85,543.69 L116.17,543.83 L116.48,543.97 L116.8,544.11 L117.11,544.26 L117.43,544.4 L117.74,544.54 L118.06,544.68 L118.37,544.82 L118.69,544.96 L119,545.1 L119.32,545.24 L119.63,545.38 L119.95,545.52 L120.26,545.66 L120.58,545.8 L120.89,545.94 L121.21,546.08 L121.52,546.22 L121.84,546.36 L122.15,546.5 L122.47,546.63 L122.78,546.77 L123.1,546.91 L123.41,547.04 L123.73,547.18 L124.36,547.45 L124.99,547.72 L125.62,547.99 L126.25,548.25 L126.88,548.52 L127.51,548.78 L128.14,549.04 L128.77,549.3 L129.4,549.55 L130.03,549.8 L130.66,550.06 L131.29,550.3 L131.92,550.55 L132.55,550.79 L133.18,551.03 L133.81,551.27 L134.44,551.51 L135.07,551.74 L135.7,551.97 L136.33,552.2 L136.96,552.43 L137.59,552.65 L138.22,552.87 L138.85,553.09 L139.49,553.3 L140.12,553.51 L140.75,553.72 L141.38,553.93 L142.01,554.14 L142.64,554.34 L143.27,554.54 L143.9,554.73 L144.53,554.93 L145.16,555.12 L145.79,555.3 L146.42,555.49 L147.05,555.67 L147.68,555.85 L148.31,556.03 L148.94,556.21 L149.57,556.38 L150.2,556.55 L150.83,556.72 L151.46,556.88 L152.09,557.04 L152.72,557.2 L153.35,557.36 L153.98,557.52 L154.61,557.67 L155.24,557.82 L155.87,557.97 L156.5,558.11 L157.13,558.26 L157.76,558.4 L158.39,558.54 L159.02,558.67 L159.65,558.81 L160.28,558.94 L160.91,559.07 L161.54,559.2 L162.17,559.32 L162.8,559.44 L163.43,559.56 L164.06,559.68 L164.69,559.8 L165.32,559.92 L165.95,560.03 L166.58,560.14 L167.21,560.25 L167.84,560.36 L168.47,560.46 L169.1,560.57 L169.73,560.67 L170.36,560.77 L171,560.87 L171.63,560.96 L172.26,561.06 L172.89,561.15 L173.52,561.24 L174.15,561.33 L174.78,561.42 L175.41,561.5 L176.04,561.59 L176.67,561.67 L177.3,561.75 L177.93,561.83 L178.56,561.91 L179.19,561.99 L179.82,562.07 L180.45,562.14 L181.08,562.21 L181.71,562.28 L182.34,562.36 L182.97,562.42 L183.6,562.49 L184.23,562.56 L184.86,562.62 L185.49,562.69 L186.12,562.75 L186.75,562.81 L187.38,562.87 L188.01,562.93 L188.64,562.99 L189.27,563.05 L189.9,563.1 L190.53,563.16 L191.16,563.21 L191.79,563.26 L192.42,563.31 L193.05,563.36 L193.68,563.41 L194.31,563.46 L194.94,563.51 L195.57,563.56 L196.2,563.6 L196.83,563.65 L197.46,563.69 L198.09,563.73 L198.72,563.78 L199.35,563.82 L199.98,563.86 L200.61,563.9 L201.24,563.94 L201.87,563.98 L202.5,564.01 L203.14,564.05 L203.77,564.09 L204.4,564.12 L205.03,564.16 L205.66,564.19 L206.29,564.22 L206.92,564.26 L207.55,564.29 L208.18,564.32 L208.81,564.35 L209.44,564.38 L210.07,564.41 L210.7,564.44 L211.33,564.47 L211.96,564.49 L212.59,564.52 L213.22,564.55 L213.85,564.57 L214.48,564.6 L215.11,564.62 L215.74,564.65 L216.37,564.67 L217,564.7 L217.63,564.72 L218.26,564.74 L218.89,564.76 L219.52,564.79 L220.15,564.81 L220.78,564.83 L221.41,564.85 L222.04,564.87 L222.67,564.89 L223.3,564.91 L223.93,564.92 L224.56,564.94 L225.19,564.96 L225.82,564.98 L226.45,565 L227.08,565.01 L227.71,565.03 L228.34,565.04 L228.97,565.06 L229.6,565.08 L230.23,565.09 L230.86,565.11 L231.49,565.12 L232.12,565.14 L232.75,565.15 L233.38,565.16 L234.01,565.18 L234.65,565.19 L235.28,565.2 L235.91,565.21 L236.54,565.23 L237.17,565.24 L237.8,565.25 L238.43,565.26 L239.06,565.27 L239.69,565.28 L240.32,565.3 L240.95,565.31 L241.58,565.32 L242.21,565.33 L242.84,565.34 L243.47,565.35 L244.1,565.36 L244.73,565.36 L245.36,565.37 L245.99,565.38 L246.62,565.39 L247.25,565.4 L247.88,565.41 L248.51,565.42 L249.14,565.43 L249.77,565.43 L250.4,565.44 L251.03,565.45 L251.66,565.46 L252.29,565.46 L252.92,565.47 L253.55,565.48 L254.18,565.48 L254.81,565.49 L255.44,565.5 L256.07,565.5 L256.7,565.51 L257.33,565.52 L257.96,565.52 L258.59,565.53 L259.22,565.53 L259.85,565.54 L260.48,565.54 L261.11,565.55 L261.74,565.55 L262.37,565.56 L263,565.57 L263.63,565.57 L264.26,565.57 L264.89,565.58 L265.52,565.58 L266.16,565.59 L266.79,565.59 L267.42,565.6 L268.05,565.6 L268.68,565.61 L269.31,565.61 L269.94,565.61 L270.57,565.62 L271.2,565.62 L271.83,565.63 L272.46,565.63 L273.09,565.63 L273.72,565.64 L274.35,565.64 L274.98,565.64 L275.61,565.65 L276.24,565.65 L276.87,565.65 L277.5,565.66 L278.13,565.66 L278.76,565.66 L279.39,565.66 L280.02,565.67 L280.65,565.67 L281.28,565.67 L281.91,565.68 L282.54,565.68 L283.17,565.68 L283.8,565.68 L284.43,565.69 L285.06,565.69 L285.69,565.69 L286.32,565.69 L286.95,565.7 L287.58,565.7 L288.21,565.7 L288.84,565.7 L289.47,565.7 L290.1,565.71 L290.73,565.71 L291.36,565.71 L291.99,565.71 L292.62,565.71 L293.25,565.72 L293.88,565.72 L294.51,565.72 L295.14,565.72 L295.77,565.72 L296.4,565.72 L297.04,565.73 L297.67,565.73 L298.3,565.73 L298.93,565.73 L299.56,565.73 L300.19,565.73 L300.82,565.73 L301.45,565.74 L302.08,565.74 L302.71,565.74 L303.34,565.74 L303.97,565.74 L304.6,565.74 L305.23,565.74 L305.86,565.74 L306.49,565.75 L307.12,565.75 L307.75,565.75 L308.38,565.75 L309.01,565.75 L309.64,565.75 L310.27,565.75 L310.9,565.75 L311.53,565.75 L312.16,565.75 L312.79,565.76 L313.42,565.76 L314.05,565.76 L314.68,565.76 L315.31,565.76 L315.94,565.76 L316.57,565.76 L317.2,565.76 L317.83,565.76 L318.46,565.76 L319.09,565.76 L319.72,565.76 L320.35,565.77 L320.98,565.77 L321.61,565.77 L322.24,565.77 L322.87,565.77 L323.5,565.77 L324.13,565.77 L324.76,565.77 L325.39,565.77 L326.02,565.77 L326.65,565.77 L327.28,565.77 L327.91,565.77 L328.55,565.77 L329.18,565.77 L329.81,565.77 L330.44,565.78 L331.07,565.78 L331.7,565.78 L332.33,565.78 L332.96,565.78 L333.59,565.78 L334.22,565.78 L334.85,565.78 L335.48,565.78 L336.11,565.78 L336.74,565.78 L337.37,565.78 L338,565.78 L338.63,565.78 L339.26,565.78 L339.89,565.78 L340.52,565.78 L341.15,565.78 L341.78,565.78 L342.41,565.78 L343.04,565.78 L343.67,565.78 L344.3,565.78" fill="none" stroke="#2b46a8" stroke-width="1.4" stroke-linejoin="round"/>
<line x1="29.2" y1="534.55" x2="87.5" y2="534.55" stroke="#1c1c1c" stroke-width="1.3" />
<line x1="87.5" y1="534.55" x2="87.5" y2="565.8" stroke="#1c1c1c" stroke-width="1.2" />
<line x1="29.2" y1="442.34" x2="344.3" y2="442.34" stroke="#1c1c1c" stroke-width="1.3" />
<rect x="29.2" y="408.6" width="315.1" height="157.2" fill="none" stroke="#1c1c1c" stroke-width="1.4"/>
<line x1="60.71" y1="565.8" x2="60.71" y2="562.6" stroke="#1c1c1c" stroke-width="1.4" />
<line x1="92.22" y1="565.8" x2="92.22" y2="562.6" stroke="#1c1c1c" stroke-width="1.4" />
<line x1="123.73" y1="565.8" x2="123.73" y2="562.6" stroke="#1c1c1c" stroke-width="1.4" />
<line x1="155.24" y1="565.8" x2="155.24" y2="562.6" stroke="#1c1c1c" stroke-width="1.4" />
<line x1="186.75" y1="565.8" x2="186.75" y2="560.8" stroke="#1c1c1c" stroke-width="1.4" />
<line x1="186.75" y1="408.6" x2="186.75" y2="413.6" stroke="#1c1c1c" stroke-width="1.4" />
<line x1="218.26" y1="565.8" x2="218.26" y2="562.6" stroke="#1c1c1c" stroke-width="1.4" />
<line x1="249.77" y1="565.8" x2="249.77" y2="562.6" stroke="#1c1c1c" stroke-width="1.4" />
<line x1="281.28" y1="565.8" x2="281.28" y2="562.6" stroke="#1c1c1c" stroke-width="1.4" />
<line x1="312.79" y1="565.8" x2="312.79" y2="562.6" stroke="#1c1c1c" stroke-width="1.4" />
<line x1="29.2" y1="557.94" x2="32.7" y2="557.94" stroke="#1c1c1c" stroke-width="1.4" />
<line x1="29.2" y1="550.08" x2="32.7" y2="550.08" stroke="#1c1c1c" stroke-width="1.4" />
<line x1="29.2" y1="542.22" x2="32.7" y2="542.22" stroke="#1c1c1c" stroke-width="1.4" />
<line x1="29.2" y1="534.36" x2="32.7" y2="534.36" stroke="#1c1c1c" stroke-width="1.4" />
<line x1="29.2" y1="526.5" x2="34.2" y2="526.5" stroke="#1c1c1c" stroke-width="1.4" />
<line x1="344.3" y1="526.5" x2="339.3" y2="526.5" stroke="#1c1c1c" stroke-width="1.4" />
<line x1="29.2" y1="518.64" x2="32.7" y2="518.64" stroke="#1c1c1c" stroke-width="1.4" />
<line x1="29.2" y1="510.78" x2="32.7" y2="510.78" stroke="#1c1c1c" stroke-width="1.4" />
<line x1="29.2" y1="502.92" x2="32.7" y2="502.92" stroke="#1c1c1c" stroke-width="1.4" />
<line x1="29.2" y1="495.06" x2="32.7" y2="495.06" stroke="#1c1c1c" stroke-width="1.4" />
<line x1="29.2" y1="487.2" x2="34.2" y2="487.2" stroke="#1c1c1c" stroke-width="1.4" />
<line x1="344.3" y1="487.2" x2="339.3" y2="487.2" stroke="#1c1c1c" stroke-width="1.4" />
<line x1="29.2" y1="479.34" x2="32.7" y2="479.34" stroke="#1c1c1c" stroke-width="1.4" />
<line x1="29.2" y1="471.48" x2="32.7" y2="471.48" stroke="#1c1c1c" stroke-width="1.4" />
<line x1="29.2" y1="463.62" x2="32.7" y2="463.62" stroke="#1c1c1c" stroke-width="1.4" />
<line x1="29.2" y1="455.76" x2="32.7" y2="455.76" stroke="#1c1c1c" stroke-width="1.4" />
<line x1="29.2" y1="447.9" x2="34.2" y2="447.9" stroke="#1c1c1c" stroke-width="1.4" />
<line x1="344.3" y1="447.9" x2="339.3" y2="447.9" stroke="#1c1c1c" stroke-width="1.4" />
<line x1="29.2" y1="440.04" x2="32.7" y2="440.04" stroke="#1c1c1c" stroke-width="1.4" />
<line x1="29.2" y1="432.18" x2="32.7" y2="432.18" stroke="#1c1c1c" stroke-width="1.4" />
<line x1="29.2" y1="424.32" x2="32.7" y2="424.32" stroke="#1c1c1c" stroke-width="1.4" />
<line x1="29.2" y1="416.46" x2="32.7" y2="416.46" stroke="#1c1c1c" stroke-width="1.4" />
<text transform="translate(26.2,565.8) rotate(-90)" x="0" y="0" font-size="12.5" text-anchor="middle" stroke="#111" stroke-width="0.35" >0</text>
<text transform="translate(26.2,526.5) rotate(-90)" x="0" y="0" font-size="12.5" text-anchor="middle" stroke="#111" stroke-width="0.35" >1</text>
<text transform="translate(26.2,487.2) rotate(-90)" x="0" y="0" font-size="12.5" text-anchor="middle" stroke="#111" stroke-width="0.35" >2</text>
<text transform="translate(26.2,447.9) rotate(-90)" x="0" y="0" font-size="12.5" text-anchor="middle" stroke="#111" stroke-width="0.35" >3</text>
<text transform="translate(26.2,408.6) rotate(-90)" x="0" y="0" font-size="12.5" text-anchor="middle" stroke="#111" stroke-width="0.35" >4</text>
<text x="29.2" y="580.1" font-size="12.5" text-anchor="middle" stroke="#111" stroke-width="0.15" >0</text>
<text x="186.75" y="580.1" font-size="12.5" text-anchor="middle" stroke="#111" stroke-width="0.15" >5</text>
<text x="344.3" y="580.1" font-size="12.5" text-anchor="middle" stroke="#111" stroke-width="0.15" >10</text>
<text transform="translate(12,430.29) rotate(-90) scale(0.969,1)" font-size="16.36"  stroke="#111" stroke-width="0.10">Δ</text>
<text transform="translate(11.33,418.98) rotate(-90) scale(1.084,1)" font-size="16.79"  stroke="#111" stroke-width="0.10">φ</text>
<text transform="translate(330.33,595.55) scale(1.034,1)" font-size="15.21" font-style="italic" stroke="#111" stroke-width="0.10">a</text>
<text transform="translate(337.7,598.59) scale(1.240,1)" font-size="10.81"  stroke="#111" stroke-width="0.08">0</text>
<text x="50.4" y="486.6" font-size="17.5" text-anchor="start" stroke="#111" stroke-width="0.1" >(c)</text>
<text transform="translate(255.68,455.4) scale(1.074,1)" font-size="17.88"  stroke="#111" stroke-width="0.28">Δ</text>
<text transform="translate(267.56,455.48) scale(1.247,1)" font-size="17.96"  stroke="#111" stroke-width="0.24">φ</text>
<text transform="translate(279.92,456.74) scale(1.195,1)" font-size="18"  stroke="#111" stroke-width="0.38">=</text>
<text transform="translate(298.3,455.33) scale(0.950,1)" font-size="17.23" font-weight="bold" stroke="#111" stroke-width="0.11">π</text>
<text transform="translate(72.97,577.01) scale(1.352,1)" font-size="15.24" font-style="italic" stroke="#111" stroke-width="0.15">u</text>
<text x="82" y="579.6" font-size="11" text-anchor="start" stroke="#111" stroke-width="0.35" textLength="18.6" lengthAdjust="spacingAndGlyphs">max</text>
</svg>
</body></html>
